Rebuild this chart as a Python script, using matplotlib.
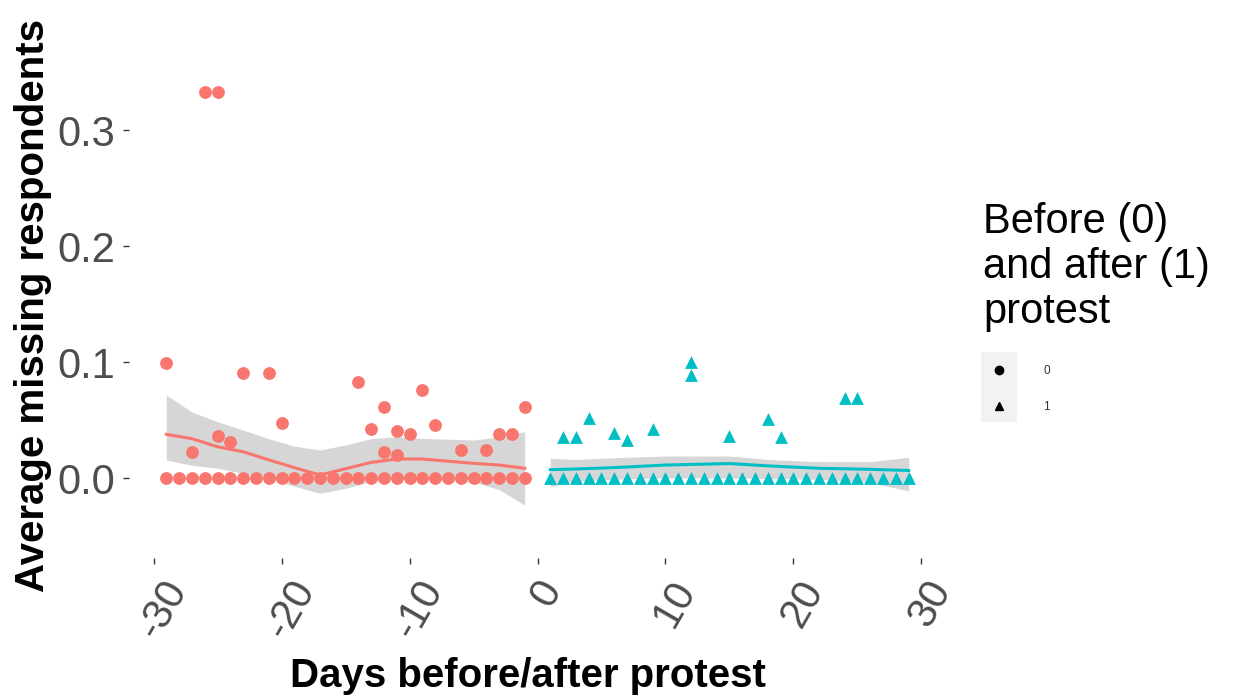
import matplotlib
matplotlib.use("Agg")
import matplotlib.pyplot as plt
import matplotlib.transforms as mtransforms
from matplotlib.patches import Rectangle
from matplotlib.lines import Line2D

plt.rcParams['font.family'] = ['Liberation Sans', 'DejaVu Sans']

# ---- data ----
# before protest (group 0)
before_day = [-29, -28, -27, -26, -25, -24, -23, -22, -21, -20, -19, -18, -17, -16, -15,
              -14, -13, -12, -11, -10, -9, -8, -7, -6, -5, -4, -3, -2, -1,
              -29, -27, -26, -25, -25, -24, -23, -21, -20, -14, -13, -12, -12,
              -11, -11, -10, -9, -8, -6, -4, -3, -2, -1]
before_val = [0, 0, 0, 0, 0, 0, 0, 0, 0, 0, 0, 0, 0, 0, 0,
              0, 0, 0, 0, 0, 0, 0, 0, 0, 0, 0, 0, 0, 0,
              0.0995, 0.0224, 0.3333, 0.3333, 0.0365, 0.0313, 0.0904, 0.0904, 0.0475,
              0.0831, 0.0420, 0.0615, 0.0224, 0.0403, 0.0198, 0.0382, 0.0759, 0.0455,
              0.0242, 0.0242, 0.0382, 0.0382, 0.0615]

# after protest (group 1)
after_day = [1, 2, 3, 4, 5, 6, 7, 8, 9, 10, 11, 12, 13, 14, 15,
             16, 17, 18, 19, 20, 21, 22, 23, 24, 25, 26, 27, 28, 29,
             2, 3, 4, 6, 7, 9, 12, 12, 15, 18, 19, 24, 25]
after_val = [0, 0, 0, 0, 0, 0, 0, 0, 0, 0, 0, 0, 0, 0, 0,
             0, 0, 0, 0, 0, 0, 0, 0, 0, 0, 0, 0, 0, 0,
             0.0351, 0.0351, 0.0515, 0.0386, 0.0328, 0.0423, 0.1004, 0.0889,
             0.0365, 0.0509, 0.0351, 0.0688, 0.0688]

# loess smooth with confidence band, as drawn
smooth0_x = [-29, -27, -25, -23, -21, -19, -17, -15, -13, -11, -9, -7, -5, -3, -1]
smooth0_y = [0.0377, 0.0340, 0.0270, 0.0227, 0.0157, 0.0090, 0.0026, 0.0080, 0.0135,
             0.0164, 0.0164, 0.0145, 0.0127, 0.0112, 0.0084]
smooth0_hi = [0.0716, 0.0570, 0.0486, 0.0414, 0.0340, 0.0275, 0.0242, 0.0285, 0.0340,
              0.0357, 0.0342, 0.0335, 0.0328, 0.0355, 0.0400]
smooth0_lo = [0.0155, 0.0110, 0.0084, 0.0040, -0.0010, -0.0070, -0.0132, -0.0089, -0.0030,
              -0.0011, -0.0011, -0.0020, -0.0032, -0.0100, -0.0233]

smooth1_x = [1, 3, 6, 10, 15, 18, 22, 26, 29]
smooth1_y = [0.0072, 0.0078, 0.0090, 0.0112, 0.0125, 0.0105, 0.0084, 0.0075, 0.0065]
smooth1_hi = [0.0170, 0.0160, 0.0175, 0.0190, 0.0190, 0.0160, 0.0141, 0.0141, 0.0179]
smooth1_lo = [-0.0075, -0.0030, -0.0010, 0.0000, 0.0000, -0.0005, -0.0010, -0.0040, -0.0110]

x_ticks = [-30, -20, -10, 0, 10, 20, 30]
x_ticklabels = ['-30', '-20', '-10', '0', '10', '20', '30']
y_ticks = [0.0, 0.1, 0.2, 0.3]
y_ticklabels = ['0.0', '0.1', '0.2', '0.3']

red = '#F8766D'
teal = '#00BFC4'

W, H = 1239, 700
fig = plt.figure(figsize=(W / 100, H / 100), dpi=100)
ax = fig.add_axes([129.2 / W, (H - 558) / H, 816.6 / W, 488.5 / H])

# smooths (ribbon + line)
ax.fill_between(smooth0_x, smooth0_lo, smooth0_hi, color='#999999', alpha=0.4, lw=0)
ax.plot(smooth0_x, smooth0_y, color=red, lw=2.2)
ax.fill_between(smooth1_x, smooth1_lo, smooth1_hi, color='#999999', alpha=0.4, lw=0)
ax.plot(smooth1_x, smooth1_y, color=teal, lw=2.2)

# points
ax.scatter(before_day, before_val, s=85, marker='o', color=red, lw=0, zorder=3)
ax.scatter(after_day, after_val, s=85, marker='^', color=teal, lw=0, zorder=3)

ax.set_xlim(-31.9, 31.9)
ax.set_ylim(-0.069, 0.3525)
for sp in ax.spines.values():
    sp.set_visible(False)

ax.set_xticks(x_ticks)
ax.set_xticklabels(x_ticklabels, rotation=60, ha='center', va='top')
ax.set_yticks(y_ticks)
ax.set_yticklabels(y_ticklabels)
ax.tick_params(axis='both', length=4, width=1, color='#333333',
               labelsize=30, labelcolor='#4D4D4D')
ax.tick_params(axis='y', pad=6)
ax.tick_params(axis='x', pad=7)
# nudge the rotated labels a little to the right, as in the original
shift = mtransforms.ScaledTranslation(9 / 100, 0, fig.dpi_scale_trans)
for lab in ax.get_xticklabels():
    lab.set_transform(lab.get_transform() + shift)

# axis titles
fig.text(33 / W, 1 - 306 / H, 'Average missing respondents', rotation=90,
         ha='center', va='center', fontsize=29, fontweight='bold')
fig.text(528 / W, 1 - 687 / H, 'Days before/after protest',
         ha='center', va='baseline', fontsize=29, fontweight='bold')

# legend (drawn by hand to get the ggplot look)
for txt, base in [('Before (0)', 233), ('and after (1)', 278), ('protest', 323)]:
    fig.text(983 / W, 1 - base / H, txt, ha='left', va='baseline', fontsize=30)
fig.add_artist(Rectangle((981 / W, 1 - 422 / H), 36 / W, 70 / H,
                         transform=fig.transFigure, facecolor='#F2F2F2', edgecolor='none'))
fig.add_artist(Line2D([999 / W], [1 - 370 / H], marker='o', markersize=6,
                      color='black', lw=0, transform=fig.transFigure))
fig.add_artist(Line2D([999 / W], [1 - 406 / H], marker='^', markersize=6,
                      color='black', lw=0, transform=fig.transFigure))
fig.text(1043 / W, 1 - 371 / H, '0', ha='left', va='center', fontsize=8.5, color='#333333')
fig.text(1043 / W, 1 - 407 / H, '1', ha='left', va='center', fontsize=8.5, color='#333333')

fig.savefig('out.png', dpi=100)
